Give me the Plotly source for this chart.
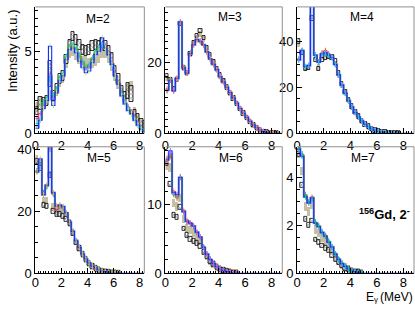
import plotly.graph_objects as go

# ---------------- data (0.25 MeV bins starting at 0) ----------------
bin_width = 0.25
panel_labels = ["M=2", "M=3", "M=4", "M=5", "M=6", "M=7"]

m2_exp = [1.35, 1.8, 1.85, 2.0, 3.6, 2.3, 2.7, 3.3, 3.5, 4.5, 5.4, 5.9, 5.7, 5.4, 5.1, 5.0, 5.1, 5.3, 5.4, 5.3, 5.5, 5.3, 5.0, 4.6, 3.8, 3.3, 2.6, 2.2, 2.6, 2.4, 1.1, 0.9, 0.6, 0.5, 0.3, 0.1]
m2_exp_err = [0.25, 0.4, 0.3, 0.3, 0.8, 0.3, 0.3, 0.3, 0.3, 0.3, 0.3, 0.3, 0.3, 0.3, 0.3, 0.3, 0.3, 0.3, 0.3, 0.3, 0.3, 0.3, 0.3, 0.3, 0.3, 0.3, 0.3, 0.3, 0.5, 0.5, 0.3, 0.3, 0.3, 0.25, 0.2, 0.1]
m2_band = [1.6, 1.9, 1.8, 2.0, 3.4, 2.2, 2.6, 3.1, 3.4, 4.3, 4.9, 5.0, 4.8, 4.5, 4.4, 4.4, 4.3, 4.3, 4.4, 4.6, 4.9, 4.9, 4.6, 4.1, 3.5, 3.0, 2.5, 2.1, 2.8, 2.9, 1.3, 0.9, 0.6, 0.4, 0.2, 0.1]
m2_band_err = 0.3
m2_red = [0.9, 1.2, 1.7, 2.0, 3.4, 2.2, 2.6, 3.3, 3.5, 4.6, 5.2, 5.3, 5.1, 4.7, 4.3, 4.0, 4.1, 4.5, 4.9, 5.1, 5.4, 5.3, 4.9, 4.3, 3.6, 3.1, 2.4, 1.9, 1.6, 1.3, 1.0, 0.6, 0.3, 0.15, 0.05, 0.0]
m2_green = [0.6, 0.8, 1.9, 2.1, 3.3, 2.3, 2.7, 3.4, 3.6, 4.7, 5.3, 5.4, 5.2, 4.8, 4.4, 4.1, 4.2, 4.6, 5.0, 5.2, 5.4, 5.2, 4.8, 4.2, 3.5, 3.0, 2.4, 1.9, 1.5, 1.2, 0.9, 0.5, 0.3, 0.15, 0.05, 0.0]
m2_blue = [0.3, 0.8, 1.5, 2.0, 5.3, 1.7, 2.5, 3.2, 3.5, 4.5, 5.1, 5.2, 4.9, 4.4, 4.0, 3.7, 3.8, 4.3, 4.8, 5.0, 5.8, 5.2, 4.8, 4.2, 3.5, 3.0, 2.3, 1.8, 1.4, 1.2, 0.8, 0.5, 0.25, 0.1, 0.03, 0.0]
m2_lblue = [0.4, 0.9, 1.6, 2.0, 3.5, 2.1, 2.5, 3.2, 3.5, 4.5, 5.1, 5.2, 5.0, 4.5, 4.1, 3.9, 4.0, 4.4, 4.8, 5.0, 5.3, 5.2, 4.8, 4.2, 3.5, 3.0, 2.3, 1.8, 1.4, 1.2, 0.8, 0.5, 0.25, 0.1, 0.03, 0.0]

m3_exp = [16.3, 15, 12.5, 15, 31, 18.5, 17, 22.5, 25.5, 27.5, 29, 27, 24, 22, 20, 18.3, 16.5, 14.8, 13, 11.5, 9.9, 8.4, 6.9, 5.6, 4.4, 3.3, 2.4, 1.6, 0.95, 0.5, 0.25, 0.12, 0.05, 0.02]
m3_exp_err = [0.6] * 34
m3_band = [15.5, 15, 12.5, 15.3, 31, 18.5, 17, 22.5, 25.5, 27, 28, 26.5, 23.8, 21.8, 20, 18.2, 16.3, 14.7, 13, 11.5, 10, 8.5, 7, 5.7, 4.5, 3.4, 2.4, 1.6, 0.95, 0.5, 0.25, 0.12, 0.05, 0.02]
m3_band_err = 0.8
m3_red = [12.0, 15, 12, 15.5, 31.3, 18.5, 17, 22.7, 25.2, 26.6, 26, 25, 23, 21, 19.5, 18, 16, 14.5, 13, 11.5, 10, 8.5, 7, 5.7, 4.5, 3.4, 2.4, 1.6, 0.95, 0.5, 0.25, 0.12, 0.05, 0.02]
m3_green = [12.6, 15.2, 12.2, 15.4, 31.5, 18.8, 17.2, 22.5, 25, 26.4, 25.8, 24.8, 22.8, 21, 19.4, 17.9, 16, 14.4, 12.9, 11.4, 9.9, 8.4, 7, 5.6, 4.4, 3.3, 2.4, 1.6, 0.95, 0.5, 0.25, 0.12, 0.05, 0.02]
m3_blue = [12.2, 15, 12, 15.5, 31.5, 18.5, 17, 22.5, 25, 26.5, 26, 25, 23, 21, 19.5, 18, 16, 14.5, 13, 11.5, 10, 8.5, 7, 5.7, 4.5, 3.4, 2.4, 1.6, 0.95, 0.5, 0.25, 0.12, 0.05, 0.02]
m3_lblue = [12.4, 15, 12.1, 15.5, 31.5, 18.5, 17, 22.5, 25, 26.5, 26, 25, 23, 21, 19.5, 18, 16, 14.5, 13, 11.5, 10, 8.5, 7, 5.7, 4.5, 3.4, 2.4, 1.6, 0.95, 0.5, 0.25, 0.12, 0.05, 0.02]

m4_exp = [40, 35, 28, 28.5, 50, 32, 28, 32, 33, 33.5, 33, 31.5, 26, 21.5, 18, 14.5, 11.7, 9.3, 7.3, 5.5, 4.0, 2.9, 1.9, 1.3, 0.8, 0.5, 0.3, 0.15, 0.08, 0.04, 0.02]
m4_exp_err = [1.0] * 31
m4_band = [39, 35.5, 28.5, 29, 50, 33, 29, 33, 34, 33.5, 33, 30.5, 25.5, 21, 17.8, 14.4, 11.6, 9.2, 7.2, 5.4, 4.0, 2.9, 1.9, 1.3, 0.8, 0.5, 0.3, 0.15, 0.08, 0.04, 0.02]
m4_band_err = 1.2
m4_red = [32, 36, 29, 29.5, 58, 34, 31, 35, 36, 34.5, 33, 30, 25.5, 21, 17.5, 14.2, 11.5, 9.1, 7.1, 5.4, 4.0, 2.9, 1.9, 1.3, 0.8, 0.5, 0.3, 0.15, 0.08, 0.04, 0.02]
m4_green = [32.5, 36, 29, 29.5, 58, 34, 31, 34.5, 35, 34, 33, 30, 25.5, 21, 17.5, 14.2, 11.5, 9.1, 7.1, 5.4, 4.0, 2.9, 1.9, 1.3, 0.8, 0.5, 0.3, 0.15, 0.08, 0.04, 0.02]
m4_blue = [32, 36, 29, 29.5, 58, 34, 31, 34.5, 35, 34, 33, 30, 25.5, 21, 17.5, 14.2, 11.5, 9.1, 7.1, 5.4, 4.0, 2.9, 1.9, 1.3, 0.8, 0.5, 0.3, 0.15, 0.08, 0.04, 0.02]
m4_lblue = [32, 36, 29, 29.5, 58, 34, 31, 34.5, 35, 34, 33, 30, 25.5, 21, 17.5, 14.2, 11.5, 9.1, 7.1, 5.4, 4.0, 2.9, 1.9, 1.3, 0.8, 0.5, 0.3, 0.15, 0.08, 0.04, 0.02]

m5_exp = [36, 34, 22, 21.5, 31.5, 20, 19, 19, 18.5, 17.5, 16, 13, 10, 8, 6.0, 4.4, 3.1, 2.2, 1.5, 1.0, 0.65, 0.4, 0.25, 0.14, 0.08, 0.04]
m5_exp_err = [0.8] * 26
m5_band = [37, 35, 23.5, 23.5, 32, 21.5, 20.5, 20.8, 20.2, 18.7, 16.3, 13.3, 10.3, 8.1, 6.1, 4.5, 3.2, 2.2, 1.55, 1.05, 0.68, 0.42, 0.26, 0.15, 0.08, 0.04]
m5_band_err = 1.2
m5_red = [33, 36, 26, 28, 40, 25.5, 20.5, 21.5, 21, 19.3, 16.3, 13.4, 10.4, 8.2, 6.1, 4.5, 3.3, 2.3, 1.6, 1.1, 0.7, 0.45, 0.28, 0.16, 0.09, 0.05]
m5_green = [33, 36.5, 25.5, 28, 41, 25.8, 21.5, 21.8, 21.3, 19.5, 16.5, 13.5, 10.5, 8.3, 6.2, 4.6, 3.3, 2.3, 1.6, 1.1, 0.7, 0.45, 0.28, 0.16, 0.09, 0.05]
m5_blue = [32.7, 36.8, 25.3, 28.4, 40.5, 26, 21.7, 22, 21.5, 19.5, 16.5, 13.5, 10.5, 8.3, 6.2, 4.6, 3.3, 2.3, 1.6, 1.1, 0.7, 0.45, 0.28, 0.16, 0.09, 0.05]
m5_lblue = [32.7, 36.8, 25.3, 28.4, 40.5, 26, 21.7, 22, 21.5, 19.5, 16.5, 13.5, 10.5, 8.3, 6.2, 4.6, 3.3, 2.3, 1.6, 1.1, 0.7, 0.45, 0.28, 0.16, 0.09, 0.05]

m6_exp = [16, 13, 8.5, 8.2, 9.7, 6.5, 5.5, 5.0, 4.7, 4.4, 4.0, 3.1, 2.4, 1.8, 1.3, 0.9, 0.6, 0.38, 0.23, 0.13, 0.07, 0.03]
m6_exp_err = [0.35] * 22
m6_band = [15.7, 15.5, 10.3, 9.8, 11, 8, 6.7, 6.4, 6.0, 5.4, 4.8, 3.5, 2.6, 1.9, 1.35, 0.92, 0.61, 0.39, 0.24, 0.14, 0.07, 0.03]
m6_band_err = 0.6
m6_red = [16.5, 17, 12, 11.2, 14, 9.2, 7.8, 7.4, 6.9, 6.0, 5.3, 3.8, 2.8, 2.0, 1.4, 0.95, 0.62, 0.4, 0.24, 0.14, 0.07, 0.03]
m6_green = [16.8, 17.2, 11.5, 11, 14.1, 9, 7.5, 7.2, 6.8, 5.9, 5.2, 3.8, 2.8, 2.0, 1.4, 0.95, 0.62, 0.4, 0.24, 0.14, 0.07, 0.03]
m6_blue = [16.6, 17.9, 11.8, 11.5, 14, 9, 7.6, 7.3, 6.9, 6.0, 5.3, 3.8, 2.8, 2.0, 1.4, 0.95, 0.62, 0.4, 0.24, 0.14, 0.07, 0.03]
m6_lblue = [16.6, 17.5, 11.8, 11.5, 14, 9, 7.6, 7.3, 6.9, 6.0, 5.3, 3.8, 2.8, 2.0, 1.4, 0.95, 0.62, 0.4, 0.24, 0.14, 0.07, 0.03]

m7_exp = [5.0, 3.7, 2.25, 2.0, 2.2, 1.4, 1.3, 1.15, 1.05, 0.95, 0.75, 0.6, 0.45, 0.32, 0.22, 0.15, 0.1, 0.06, 0.03, 0.015]
m7_exp_err = [0.1] * 20
m7_band = [5.0, 4.3, 2.8, 2.6, 2.9, 1.85, 1.7, 1.5, 1.35, 1.15, 0.95, 0.72, 0.52, 0.37, 0.25, 0.17, 0.1, 0.06, 0.03, 0.015]
m7_band_err = 0.18
m7_red = [5.2, 4.95, 3.25, 2.95, 3.2, 2.1, 1.95, 1.7, 1.6, 1.3, 1.1, 0.8, 0.58, 0.4, 0.28, 0.18, 0.1, 0.06, 0.03, 0.015]
m7_green = [5.3, 5.0, 3.3, 3.0, 3.1, 2.15, 2.0, 1.75, 1.55, 1.35, 1.1, 0.8, 0.58, 0.4, 0.28, 0.18, 0.1, 0.06, 0.03, 0.015]
m7_blue = [5.2, 4.9, 3.2, 2.95, 3.15, 2.1, 1.95, 1.7, 1.55, 1.3, 1.1, 0.8, 0.58, 0.4, 0.28, 0.18, 0.1, 0.06, 0.03, 0.015]
m7_lblue = [5.2, 4.9, 3.2, 2.95, 3.15, 2.1, 1.95, 1.7, 1.55, 1.3, 1.1, 0.8, 0.58, 0.4, 0.28, 0.18, 0.1, 0.06, 0.03, 0.015]

y_ranges = [[0, 7.7], [0, 35.7], [0, 55], [0, 40.8], [0, 18.5], [0, 5.3]]
y_dticks = [5, 20, 20, 20, 10, 2]
y_minor = [0.5, 2, 5, 5, 2, 0.5]
x_ranges = [[0, 8.36], [0, 8.8], [0, 8.8], [0, 8.36], [0, 8.8], [0, 8.8]]

panels = [
    (m2_exp, m2_exp_err, m2_band, m2_band_err, m2_red, m2_green, m2_blue, m2_lblue),
    (m3_exp, m3_exp_err, m3_band, m3_band_err, m3_red, m3_green, m3_blue, m3_lblue),
    (m4_exp, m4_exp_err, m4_band, m4_band_err, m4_red, m4_green, m4_blue, m4_lblue),
    (m5_exp, m5_exp_err, m5_band, m5_band_err, m5_red, m5_green, m5_blue, m5_lblue),
    (m6_exp, m6_exp_err, m6_band, m6_band_err, m6_red, m6_green, m6_blue, m6_lblue),
    (m7_exp, m7_exp_err, m7_band, m7_band_err, m7_red, m7_green, m7_blue, m7_lblue),
]

# ---------------- layout geometry (pixels) ----------------
W, H = 415, 309
col_px = [(31.7, 141.7), (163, 281), (296, 414)]
row_px = [(2, 134), (148, 280)]
label_px = [(95, 15), (228, 13), (361, 13), (96, 160), (229, 160), (362, 160)]

FONT = "Liberation Sans, Arial, Helvetica, sans-serif"
BAND_COLOR = "rgba(188,180,150,0.85)"
COLORS = {"red": "#ff1a1a", "green": "#22cc22", "blue": "#1030ff", "lblue": "rgba(120,140,255,0.85)"}

fig = go.Figure()


def step_xy(vals, xend, extend_zero=False):
    xs, ys = [], []
    for k, v in enumerate(vals):
        xs.append(k * bin_width)
        ys.append(v)
    xs.append(len(vals) * bin_width)
    ys.append(vals[-1])
    if extend_zero:
        xs.append(len(vals) * bin_width)
        ys.append(0)
        xs.append(xend)
        ys.append(0)
    return xs, ys


annotations = []
shapes = []
for i, (exp, exp_err, band, band_err, red, green, blue, lblue) in enumerate(panels):
    r, c = divmod(i, 3)
    sfx = "" if i == 0 else str(i + 1)
    xa, ya = "x" + sfx, "y" + sfx
    x0, x1 = col_px[c]
    yt, yb = row_px[r]
    centers = [(k + 0.5) * bin_width for k in range(len(exp))]

    # beige uncertainty band
    fig.add_trace(go.Bar(
        x=centers, y=[2 * band_err] * len(band), base=[v - band_err for v in band],
        width=bin_width, marker=dict(color=BAND_COLOR, line=dict(width=0)),
        xaxis=xa, yaxis=ya, showlegend=False, hoverinfo="skip"))

    xend = x_ranges[i][1]
    for name, vals, w in (("lblue", lblue, 2.2), ("red", red, 1.0), ("green", green, 1.0), ("blue", blue, 1.1)):
        xs, ys = step_xy(vals, xend, extend_zero=(name == "blue"))
        fig.add_trace(go.Scatter(
            x=xs, y=ys, mode="lines", line=dict(color=COLORS[name], width=w, shape="hv"),
            xaxis=xa, yaxis=ya, showlegend=False, hoverinfo="skip", cliponaxis=True))
        if name != "lblue":
            fig.add_trace(go.Scatter(
                x=centers, y=vals, mode="markers",
                marker=dict(symbol="line-ns-open", size=4, line=dict(color=COLORS[name], width=1)),
                xaxis=xa, yaxis=ya, showlegend=False, hoverinfo="skip"))

    # experimental data: hatched error boxes
    fig.add_trace(go.Bar(
        x=centers, y=[2 * e for e in exp_err], base=[v - e for v, e in zip(exp, exp_err)],
        width=bin_width,
        marker=dict(color="rgba(255,255,255,0.35)", line=dict(color="black", width=0.8),
                    pattern=dict(shape="x", size=3, solidity=0.35, fgcolor="black", fillmode="overlay")),
        xaxis=xa, yaxis=ya, showlegend=False, hoverinfo="skip"))

    common = dict(showline=True, linecolor="black", linewidth=1, ticks="inside", ticklen=5,
                  tickcolor="black", tickwidth=1, showgrid=False, zeroline=False,
                  tickfont=dict(family=FONT, size=13, color="black"))
    fig.layout["xaxis" + sfx] = dict(
        domain=[x0 / W, x1 / W], range=x_ranges[i], anchor=ya, tick0=0, dtick=2,
        ticklabelstandoff=(-3 if r == 1 else 0),
        minor=dict(dtick=0.2, ticklen=2.5, ticks="inside", tickcolor="black"), **common)
    fig.layout["yaxis" + sfx] = dict(
        domain=[1 - yb / H, 1 - yt / H], range=y_ranges[i], anchor=xa, tick0=0, dtick=y_dticks[i],
        minor=dict(dtick=y_minor[i], ticklen=2.5, ticks="inside", tickcolor="black"), **common)

    # grey frame (top & right)
    shapes.append(dict(type="line", xref="paper", yref="paper", x0=x0 / W, x1=x1 / W,
                       y0=1 - yt / H, y1=1 - yt / H, line=dict(color="#909090", width=1)))
    shapes.append(dict(type="line", xref="paper", yref="paper", x0=x1 / W, x1=x1 / W,
                       y0=1 - yt / H, y1=1 - yb / H, line=dict(color="#909090", width=1)))

    lx, ly = label_px[i]
    annotations.append(dict(text=panel_labels[i], x=lx / W, y=1 - ly / H, xref="paper", yref="paper",
                            showarrow=False, xanchor="center", yanchor="middle",
                            font=dict(family=FONT, size=12, color="black")))

annotations.append(dict(text="Intensity (a.u.)", x=9 / W, y=1 - 48 / H, xref="paper", yref="paper",
                        textangle=-90, showarrow=False, xanchor="center", yanchor="middle",
                        font=dict(family=FONT, size=13, color="black")))
# x-axis title "Eγ (MeV)" built from pieces so the subscript stays compact
annotations.append(dict(text="(MeV)", x=414 / W, y=1 - 305 / H, xref="paper", yref="paper",
                        showarrow=False, xanchor="right", yanchor="middle", borderpad=0,
                        font=dict(family=FONT, size=12, color="black")))
annotations.append(dict(text="γ", x=379 / W, y=1 - 307 / H, xref="paper", yref="paper",
                        showarrow=False, xanchor="right", yanchor="middle", borderpad=0,
                        font=dict(family=FONT, size=8, color="black")))
annotations.append(dict(text="E", x=374.5 / W, y=1 - 305 / H, xref="paper", yref="paper",
                        showarrow=False, xanchor="right", yanchor="middle", borderpad=0,
                        font=dict(family=FONT, size=12, color="black")))
annotations.append(dict(text="<b><sup>156</sup>Gd, 2<sup>-</sup></b>", x=384 / W, y=1 - 218 / H,
                        xref="paper", yref="paper", showarrow=False, xanchor="center", yanchor="middle",
                        font=dict(family=FONT, size=13, color="black")))

fig.update_layout(
    width=W, height=H, margin=dict(l=0, r=0, t=0, b=0),
    paper_bgcolor="white", plot_bgcolor="white", barmode="overlay", bargap=0,
    annotations=annotations, shapes=shapes, showlegend=False,
)

fig.write_html("out.html", config={"displayModeBar": False},
               post_script="document.body.style.margin='0';document.body.style.padding='0';")
